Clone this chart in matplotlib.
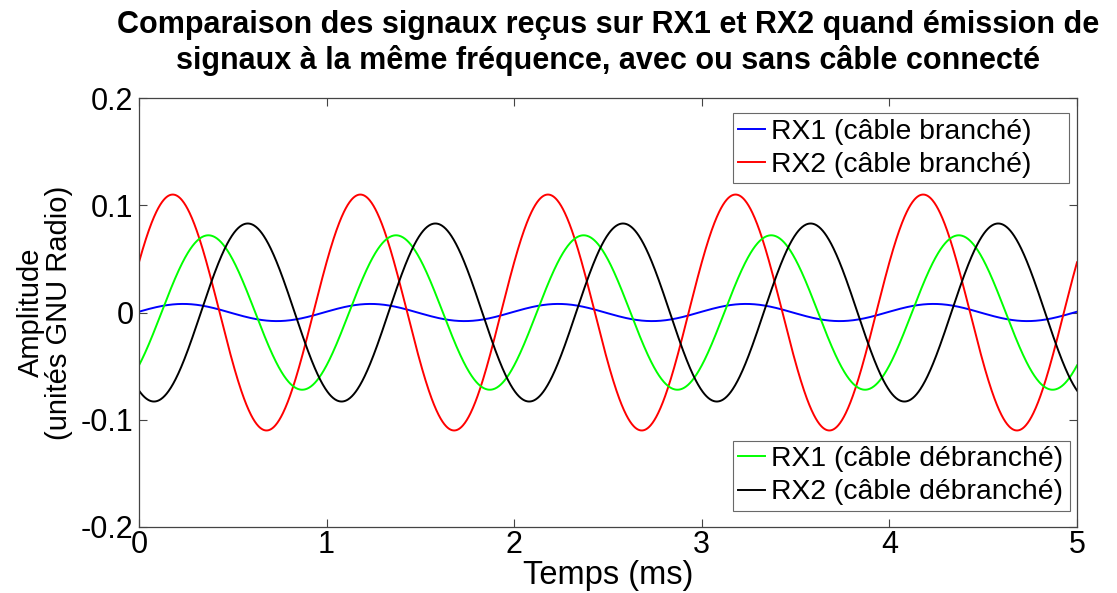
import numpy as np
import matplotlib
matplotlib.use("Agg")
import matplotlib.pyplot as plt

plt.rcParams['font.family'] = ['Liberation Sans', 'DejaVu Sans']

# Series: pure tones at the same frequency
labels_on = ["RX1 (câble branché)", "RX2 (câble branché)"]
labels_off = ["RX1 (câble débranché)", "RX2 (câble débranché)"]
colors_on = ["#0000ff", "#ff0000"]
colors_off = ["#00ff00", "#000000"]
amp_on = [0.008, 0.110]          # amplitude
peak_on = [0.235, 0.18]          # time of first maximum (ms)
amp_off = [0.072, 0.083]
peak_off = [0.37, 0.58]
period_ms = 1.0
t_start, t_end = 0.0, 5.0

xticks = [0, 1, 2, 3, 4, 5]
yticks = [-0.2, -0.1, 0, 0.1, 0.2]
yticklabels = ["-0.2", "-0.1", "0", "0.1", "0.2"]

t = np.linspace(t_start, t_end, 2001)

fig = plt.figure(figsize=(11.17, 5.93), dpi=100)
ax = fig.add_axes([0.1244, 0.1113, 0.8398, 0.7234])

h_on = []
for a, p, c, l in zip(amp_on, peak_on, colors_on, labels_on):
    h, = ax.plot(t, a * np.cos(2 * np.pi * (t - p) / period_ms), color=c, lw=1.4, label=l)
    h_on.append(h)
h_off = []
for a, p, c, l in zip(amp_off, peak_off, colors_off, labels_off):
    h, = ax.plot(t, a * np.cos(2 * np.pi * (t - p) / period_ms), color=c, lw=1.4, label=l)
    h_off.append(h)

ax.set_xlim(0, 5)
ax.set_ylim(-0.2, 0.2)
ax.set_xticks(xticks)
ax.set_xticklabels([str(v) for v in xticks])
ax.set_yticks(yticks)
ax.set_yticklabels(yticklabels)
ax.tick_params(direction='in', length=6, width=0.8, color='#444444', labelsize=22,
               top=True, right=True)
ax.tick_params(axis='x', pad=2)
ax.tick_params(axis='y', pad=4)
for s in ax.spines.values():
    s.set_color('#444444')
    s.set_linewidth(0.9)

ax.set_xlabel("Temps (ms)", fontsize=23.5, labelpad=0)
ax.set_ylabel("Amplitude\n(unités GNU Radio)", fontsize=21, labelpad=5.5, linespacing=1.0)

fig.text(0.544, 0.983, "Comparaison des signaux reçus sur RX1 et RX2 quand émission de\n"
         "signaux à la même fréquence, avec ou sans câble connecté",
         ha='center', va='top', fontsize=22, fontweight='bold', linespacing=1.2)

leg_kw = dict(fontsize=20.4, frameon=True, fancybox=False, edgecolor='#444444',
              handlelength=0.95, handletextpad=0.2, borderpad=0.2, labelspacing=0.25,
              borderaxespad=0, handleheight=0.7, mode='expand')
leg1 = ax.legend(handles=h_on, loc='upper right',
                 bbox_to_anchor=(0.633, 0.5, 0.3585, 0.465), **leg_kw)
leg1.get_frame().set_linewidth(0.8)
ax.add_artist(leg1)
leg2 = ax.legend(handles=h_off, loc='lower right',
                 bbox_to_anchor=(0.633, 0.037, 0.3595, 0.4), **leg_kw)
leg2.get_frame().set_linewidth(0.8)

fig.savefig("out.png", dpi=100)
